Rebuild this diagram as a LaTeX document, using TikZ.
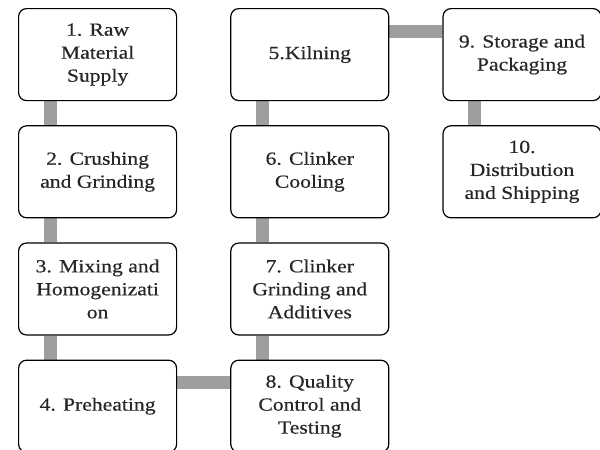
\documentclass[tikz,border=0pt]{standalone}
\usepackage{fontspec}
\setmainfont{Liberation Serif}[FakeStretch=1.17, FakeBold=0.4]
\usetikzlibrary{positioning, backgrounds}
\tikzset{
  stage/.style={draw, rounded corners=8pt, line width=1.2pt, fill=white,
    minimum width=158pt, minimum height=92pt, align=center,
    font=\fontsize{18.5}{23}\selectfont, text=black!85}, % every step box
  link/.style={line width=13pt, draw=black!38}, % grey bars between boxes
}

\begin{document}
\begin{tikzpicture}[node distance=24pt and 53pt]
    \useasboundingbox (0,0) rectangle (600pt,-450pt);

    \node[stage, anchor=north west] (raw) at (18pt,-8pt) {1. Raw\\Material\\Supply};
    \node[stage, below=of raw] (crush) {2. Crushing\\and Grinding};
    \node[stage, below=of crush] (mix) {3. Mixing and\\Homogenizati\\on};
    \node[stage, below=of mix] (preheat) {4. Preheating};

    \node[stage, right=of raw] (kiln) {5.Kilning};
    \node[stage, below=of kiln] (cool) {6. Clinker\\Cooling};
    \node[stage, below=of cool] (clinker) {7. Clinker\\Grinding and\\Additives};
    \node[stage, below=of clinker] (quality) {8. Quality\\Control and\\Testing};

    \node[stage, right=of kiln] (store) {9. Storage and\\Packaging};
    \node[stage, below=of store] (ship) {10.\\Distribution\\and Shipping};

    \begin{scope}[on background layer]
    \draw[link] ([xshift=32pt]raw.south west) -- ([xshift=32pt]crush.north west);
    \draw[link] ([xshift=32pt]crush.south west) -- ([xshift=32pt]mix.north west);
    \draw[link] ([xshift=32pt]mix.south west) -- ([xshift=32pt]preheat.north west);
    \draw[link] ([yshift=-23pt]preheat.north east) -- ([yshift=-23pt]quality.north west);
    \draw[link] ([xshift=32pt]quality.north west) -- ([xshift=32pt]clinker.south west);
    \draw[link] ([xshift=32pt]clinker.north west) -- ([xshift=32pt]cool.south west);
    \draw[link] ([xshift=32pt]cool.north west) -- ([xshift=32pt]kiln.south west);
    \draw[link] ([yshift=-23pt]kiln.north east) -- ([yshift=-23pt]store.north west);
    \draw[link] ([xshift=32pt]store.south west) -- ([xshift=32pt]ship.north west);
    \end{scope}
\end{tikzpicture}
\end{document}
